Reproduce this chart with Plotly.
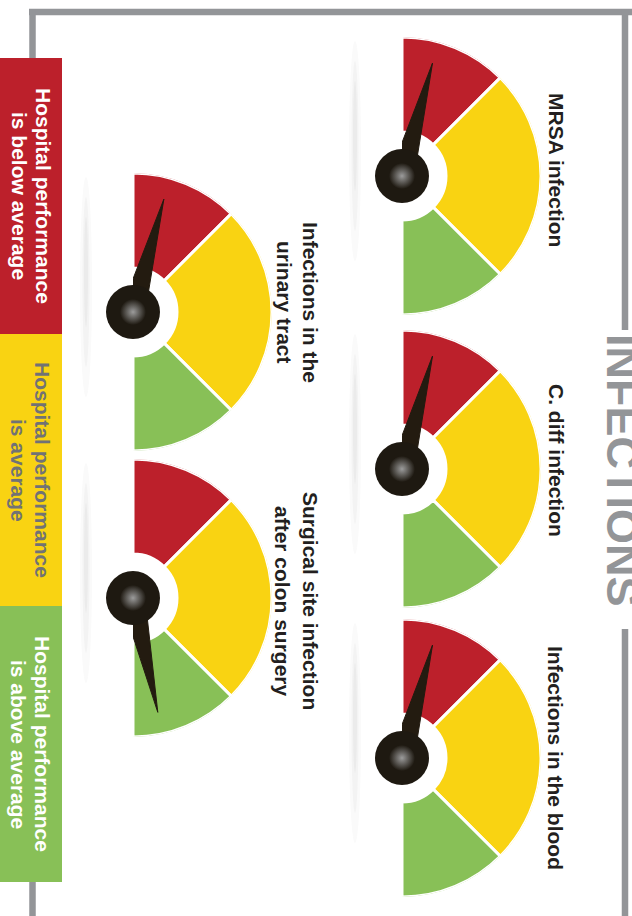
import plotly.graph_objects as go

# ---------------- data ----------------
gauge_titles = [
    ["MRSA infection"],
    ["C. diff infection"],
    ["Infections in the blood"],
    ["Infections in the", "urinary tract"],
    ["Surgical site infection", "after colon surgery"],
]
# needle position on a 0 (below average) .. 100 (above average) scale
needle_values = [8.4, 8.4, 8.4, 8.5, 93.2]

band_names = ["below average", "average", "above average"]
band_shares = [25, 50, 25]
band_colors = ["#BC202B", "#F9D312", "#88C057"]

legend_lines = [
    ["Hospital performance", "is below average"],
    ["Hospital performance", "is average"],
    ["Hospital performance", "is above average"],
]
legend_text_colors = ["#FFFFFF", "#717275", "#FFFFFF"]

title_text = "INFECTIONS"

# ---------------- layout constants (pixels) ----------------
W, H = 632, 916
R = 139          # outer radius
RIN = 44         # inner radius of the colour bands
NEEDLE_LEN = 117
NEEDLE_HALF = 12
HUB_SIZE = 54
NEEDLE_COLOR = "#231B10"
HUB_COLOR = "#1E1911"
FRAME = "#939598"
FONT = "Liberation Sans, Arial, sans-serif"

gauge_centers = [(402, 176), (402, 469), (402, 758), (133, 312), (133, 598)]
label_pos = [  # (x of each line, y centre)
    ([556], 170),
    ([556], 460),
    ([556], 758),
    ([310, 284], 302),
    ([311, 283], 601),
]
legend_spans = [(58, 334), (334, 606), (606, 882)]


def px(x):
    return x / W


def py(y):
    return 1 - y / H


fig = go.Figure()

# band geometry in degrees (0 = red end at top, 180 = green end at bottom)
edges = [0]
for s in band_shares:
    edges.append(edges[-1] + s)
band_theta = [(edges[i] + edges[i + 1]) / 2 * 1.8 for i in range(len(band_shares))]
band_width = [s * 1.8 for s in band_shares]

layout_polars = {}
for i, (val, (cx, cy)) in enumerate(zip(needle_values, gauge_centers)):
    pid = "polar" if i == 0 else f"polar{i + 1}"
    fig.add_trace(go.Barpolar(
        r=[R - RIN] * len(band_shares), base=[RIN] * len(band_shares),
        theta=band_theta, width=band_width,
        marker=dict(color=band_colors, line=dict(color="white", width=3)),
        text=band_names, hoverinfo="text", showlegend=False, subplot=pid))
    a = val * 1.8
    fig.add_trace(go.Scatterpolar(
        r=[NEEDLE_HALF, NEEDLE_LEN, NEEDLE_HALF, NEEDLE_HALF],
        theta=[a - 90, a, a + 90, a - 90],
        mode="lines", fill="toself", fillcolor=NEEDLE_COLOR,
        line=dict(color=NEEDLE_COLOR, width=1),
        hoverinfo="skip", showlegend=False, subplot=pid))
    fig.add_trace(go.Scatterpolar(
        r=[0], theta=[0], mode="markers", cliponaxis=False,
        marker=dict(size=HUB_SIZE, color=HUB_COLOR, line=dict(width=0)),
        hoverinfo="skip", showlegend=False, subplot=pid))
    fig.add_trace(go.Scatterpolar(
        r=[0], theta=[0], mode="markers", cliponaxis=False,
        marker=dict(size=26, color=HUB_COLOR, line=dict(width=0),
                    gradient=dict(type="radial", color="#9C9C9C")),
        hoverinfo="skip", showlegend=False, subplot=pid))
    layout_polars[pid] = dict(
        domain=dict(x=[px(cx), px(cx + R)], y=[py(cy + R), py(cy - R)]),
        sector=[-90, 90], bgcolor="rgba(0,0,0,0)", hole=0,
        radialaxis=dict(visible=False, range=[0, R]),
        angularaxis=dict(visible=False, rotation=90, direction="clockwise"),
    )

shapes = []
# frame lines
for x0, y0, x1, y1 in [(29, 12, 632, 12), (32.5, 9, 32.5, 58), (32.5, 882, 32.5, 916),
                       (625, 9, 625, 330), (625, 629, 625, 916)]:
    shapes.append(dict(type="line", xref="paper", yref="paper",
                       x0=px(x0), y0=py(y0), x1=px(x1), y1=py(y1),
                       line=dict(color=FRAME, width=6.5), layer="below"))
# legend blocks
for (y0, y1), c in zip(legend_spans, band_colors):
    shapes.append(dict(type="rect", xref="paper", yref="paper",
                       x0=px(0), x1=px(62), y0=py(y1), y1=py(y0),
                       fillcolor=c, line=dict(width=0), layer="below"))
# soft shadows left of the gauges
for cx, cy in gauge_centers:
    for half_w, half_h, dy, op in [(6, 110, -25, 0.025), (3.5, 85, -30, 0.035),
                                   (2, 55, -40, 0.045)]:
        shapes.append(dict(type="circle", xref="paper", yref="paper",
                           x0=px(cx - 47 - half_w), x1=px(cx - 47 + half_w),
                           y0=py(cy + dy + half_h), y1=py(cy + dy - half_h),
                           fillcolor=f"rgba(60,60,60,{op})", line=dict(width=0),
                           layer="below"))

annotations = []
annotations.append(dict(text=title_text, x=px(623), y=py(470), xref="paper", yref="paper",
                        showarrow=False, textangle=90, xanchor="center", yanchor="middle",
                        font=dict(family=FONT, size=45, color=FRAME, weight="bold")))
for lines, (xs, yc) in zip(gauge_titles, label_pos):
    for t, x in zip(lines, xs):
        annotations.append(dict(text=t, x=px(x), y=py(yc), xref="paper", yref="paper",
                                showarrow=False, textangle=90, xanchor="center",
                                yanchor="middle",
                                font=dict(family=FONT, size=21, color="#231F20",
                                          weight="bold")))
for lines, (y0, y1), tc in zip(legend_lines, legend_spans, legend_text_colors):
    for t, x in zip(lines, [43, 19]):
        annotations.append(dict(text=t, x=px(x), y=py((y0 + y1) / 2), xref="paper",
                                yref="paper", showarrow=False, textangle=90,
                                xanchor="center", yanchor="middle",
                                font=dict(family=FONT, size=21, color=tc, weight="bold")))

fig.update_layout(
    width=W, height=H, margin=dict(l=0, r=0, t=0, b=0),
    paper_bgcolor="white", plot_bgcolor="white",
    showlegend=False, shapes=shapes, annotations=annotations,
    **layout_polars,
)
fig.write_html(
    "out.html",
    config={"displayModeBar": False},
    post_script="document.body.style.margin='0';document.body.style.overflow='hidden';",
)
